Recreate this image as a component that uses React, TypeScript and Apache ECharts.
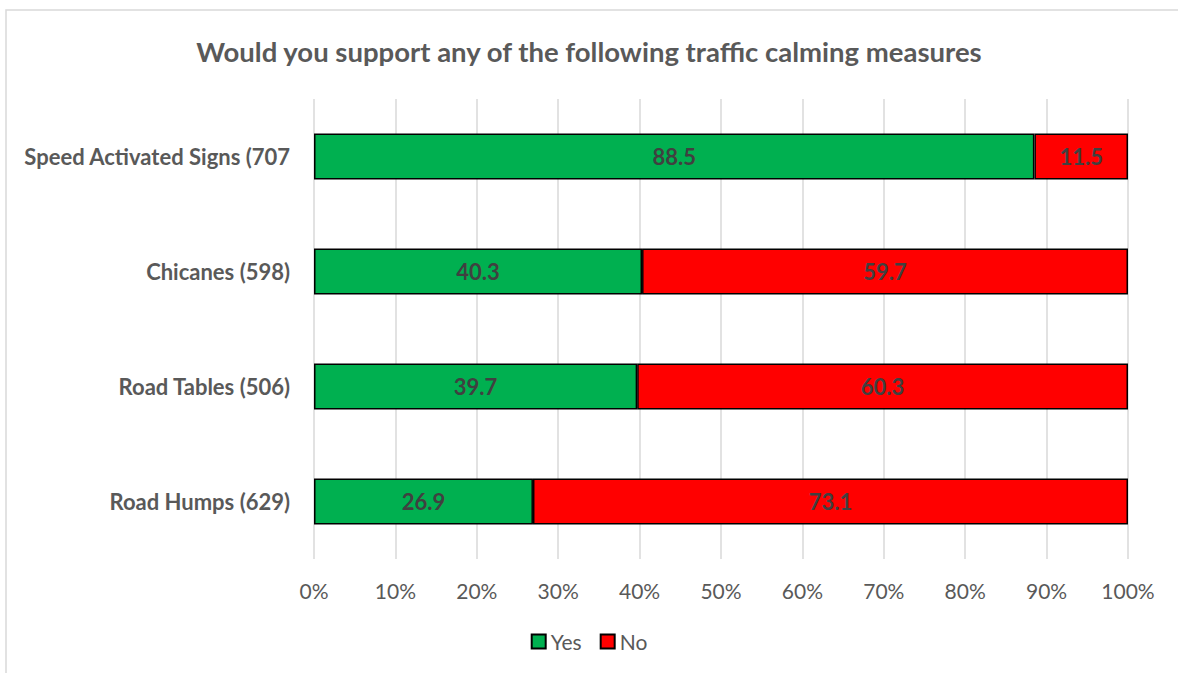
import React, { useEffect, useRef } from "react";
import * as echarts from "echarts";

const categories = [
  "Road Humps (629)",
  "Road Tables (506)",
  "Chicanes (598)",
  "Speed Activated Signs (707",
];
const yesValues = [26.9, 39.7, 40.3, 88.5];
const noValues = [73.1, 60.3, 59.7, 11.5];
const xTicks = { min: 0, max: 100, interval: 10 };

export default function App() {
  const ref = useRef<HTMLDivElement>(null);
  useEffect(() => {
    if (!ref.current) return;
    const chart = echarts.init(ref.current, null, { renderer: "svg" });
    const font = "Lato, 'Open Sans', sans-serif";
    const labelCfg = {
      show: true,
      position: "inside",
      color: "#404040",
      fontWeight: "bold",
      fontSize: 22,
      fontFamily: font,
      formatter: (p: any) => p.value.toFixed(1),
    };
    chart.setOption({
      animation: false,
      backgroundColor: "#fff",
      title: {
        text: "Would you support any of the following traffic calming measures",
        left: "center",
        top: 32,
        textStyle: {
          color: "#595959",
          fontSize: 27.5,
          fontWeight: "bold",
          fontFamily: font,
        },
      },
      graphic: [
        {
          type: "rect",
          shape: { x: 6, y: 10, width: 1200, height: 700 },
          style: { fill: "none", stroke: "#d9d9d9", lineWidth: 1.5 },
          silent: true,
        },
      ],
      legend: {
        bottom: 16,
        left: "center",
        itemWidth: 14,
        itemHeight: 14,
        itemGap: 18,
        icon: "rect",
        textStyle: { color: "#595959", fontSize: 21, fontFamily: font },
        data: ["Yes", "No"],
      },
      grid: { left: 314, right: 50, top: 99, bottom: 114 },
      xAxis: {
        type: "value",
        min: xTicks.min,
        max: xTicks.max,
        interval: xTicks.interval,
        axisLabel: {
          formatter: "{value}%",
          color: "#595959",
          fontSize: 21,
          fontFamily: font,
          margin: 21,
        },
        axisLine: { show: false },
        axisTick: { show: false },
        splitLine: { lineStyle: { color: "#d9d9d9", width: 1.5 } },
      },
      yAxis: {
        type: "category",
        data: categories,
        axisLine: { show: false },
        axisTick: { show: false },
        axisLabel: {
          color: "#595959",
          fontSize: 22,
          fontWeight: "bold",
          fontFamily: font,
          margin: 24,
        },
      },
      series: [
        {
          name: "Yes",
          type: "bar",
          stack: "total",
          barWidth: 46,
          data: yesValues,
          itemStyle: { color: "#00b050", borderColor: "#000", borderWidth: 1.5 },
          label: labelCfg,
        },
        {
          name: "No",
          type: "bar",
          stack: "total",
          barWidth: 46,
          data: noValues,
          itemStyle: { color: "#ff0000", borderColor: "#000", borderWidth: 1.5 },
          label: labelCfg,
        },
      ],
    });
    return () => chart.dispose();
  }, []);
  return <div ref={ref} style={{ width: 1178, height: 673, position: "absolute", left: 0, top: 0 }} />;
}
